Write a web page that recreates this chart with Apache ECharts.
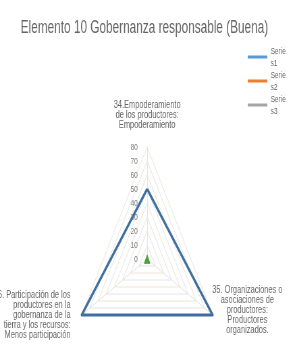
<!DOCTYPE html>
<html><head><meta charset="utf-8">
<script src="https://cdn.jsdelivr.net/npm/echarts@6/dist/echarts.min.js"></script>
<style>
html,body{margin:0;padding:0;background:#fff;overflow:hidden;width:289px;height:358px}
#wrap{width:289px;height:358px;overflow:hidden;position:relative}
#chart{width:428px;height:358px;transform:scaleX(0.675);transform-origin:0 0;position:absolute;left:0;top:0}
</style>
</head><body><div id="wrap"><div id="chart"></div></div>
<script>
// ---- data ----
const titleText = 'Elemento 10 Gobernanza responsable (Buena)';
const indicatorNames = [
  '34.Empoderamiento\nde los productores:\nEmpoderamiento',
  '36. Participación de los\nproductores en la\ngobernanza de la\ntierra y los recursos:\nMenos participación',
  '35. Organizaciones o\nasociaciones de\nproductores:\nProductores\norganizados.'
];
const axisMin = 0;
const axisMax = 80;
const seriesNames = ['Serie s1', 'Serie s2', 'Serie s3', 'Serie s4'];
const serieS1 = [50, 80, 80];
const serieS2 = [0, 0, 0];
const serieS3 = [0, 0, 0];
const serieS4 = [0, 0, 0];

const FONT = '"Liberation Sans", Arial, sans-serif';
const chart = echarts.init(document.getElementById('chart'), null, {renderer: 'canvas'});

// per-indicator label placement (blank trailing lines lift the bottom labels)
const nameTail = ['', '\n\n', '\n\n\n'];
const indicatorExtra = [
  {nameGap: 17, axisLabel: {show: true}},
  {nameGap: 19, nameTextStyle: {align: 'right'}},
  {nameGap: 19, nameTextStyle: {align: 'center', padding: [0, 0, 0, 70]}}
];

chart.setOption({
  animation: false,
  backgroundColor: '#ffffff',
  title: {
    text: titleText, left: 'center', top: 14,
    textStyle: {fontSize: 17.5, fontWeight: 'normal', color: '#666666', fontFamily: FONT}
  },
  legend: {
    orient: 'vertical', left: 362, top: 34,
    itemWidth: 29, itemHeight: 3, icon: 'rect', itemGap: -12,
    data: [
      {name: seriesNames[0], itemStyle: {color: '#5b9bd5'}},
      {name: seriesNames[1], itemStyle: {color: '#ed7d31'}},
      {name: seriesNames[2], itemStyle: {color: '#a5a5a5'}}
    ],
    formatter: n => n.replace(' ', '\n'),
    textStyle: {fontSize: 9.5, color: '#666666', lineHeight: 12, padding: [12, 0, 0, 0], fontFamily: FONT}
  },
  radar: {
    center: [218, 259], radius: 112, startAngle: 90, splitNumber: 8, shape: 'polygon',
    indicator: indicatorNames.map((n, i) => Object.assign({name: n + nameTail[i], min: axisMin, max: axisMax}, indicatorExtra[i])),
    axisName: {color: '#666666', fontSize: 11, lineHeight: 10, fontFamily: FONT},
    nameGap: 19,
    splitLine: {lineStyle: {color: ['#ece6d6', '#e4e4e4'], width: 1}},
    splitArea: {show: false},
    axisLine: {lineStyle: {color: '#e6e6e6'}},
    axisTick: {show: false},
    axisLabel: {show: false, color: '#7f7f7f', fontSize: 9.5, margin: 14, fontFamily: FONT}
  },
  series: [{
    type: 'radar', symbol: 'none',
    data: [
      {name: seriesNames[0], value: serieS1, lineStyle: {color: '#3f6fa0', width: 3}, itemStyle: {color: '#3f6fa0'}},
      {name: seriesNames[1], value: serieS2, lineStyle: {color: '#ed7d31', width: 3}, itemStyle: {color: '#ed7d31'}},
      {name: seriesNames[2], value: serieS3, lineStyle: {color: '#a5a5a5', width: 3}, itemStyle: {color: '#a5a5a5'}},
      {name: seriesNames[3], value: serieS4, symbol: 'triangle', symbolSize: [9, 9], lineStyle: {width: 0}, itemStyle: {color: '#4ea33a'}}
    ]
  }]
});
</script></body></html>
